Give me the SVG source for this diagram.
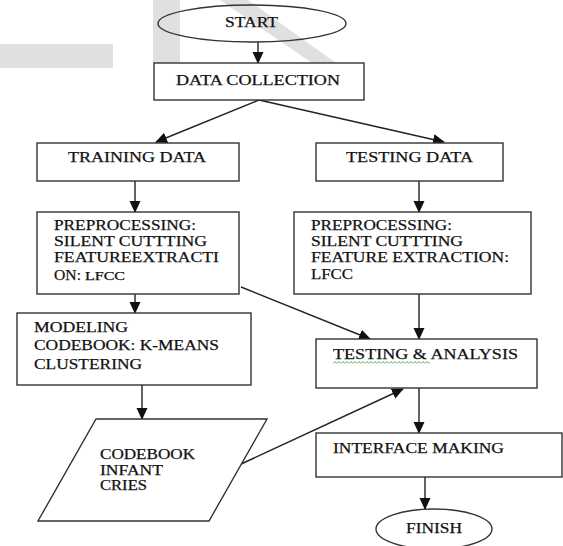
<svg xmlns="http://www.w3.org/2000/svg" width="563" height="546" viewBox="0 0 563 546">
  <style>
    .shape { fill: #ffffff; stroke: #333333; stroke-width: 1.4; }
    .oval { fill: none; stroke: #333333; stroke-width: 1.4; }
    .lbl { font-family: "Liberation Serif", "Times New Roman", serif; font-size: 15.5px; fill: #111111; stroke: #111111; stroke-width: 0.25; }
    .small { font-size: 12px; }
    .tight { font-size: 14px; }
    .conn { stroke: #222222; stroke-width: 1.4; fill: none; marker-end: url(#arrow); }
    .wm { fill: #e0e0e0; }
  </style>
  <defs>
    <marker id="arrow" markerWidth="12" markerHeight="12" refX="11" refY="6" orient="auto" markerUnits="userSpaceOnUse">
      <path d="M0,0.5 L12,6 L0,11.5 Z" fill="#111111"/>
    </marker>
    <pattern id="squig" width="4" height="3" patternUnits="userSpaceOnUse" x="333" y="361">
      <path d="M0,2.5 L2,0.5 L4,2.5" fill="none" stroke="#3aa83a" stroke-width="0.9"/>
    </pattern>
  </defs>

  <g id="watermark">
    <rect class="wm" x="0" y="44" width="113" height="24"/>
    <rect class="wm" x="153" y="0" width="27" height="63"/>
    <polygon class="wm" points="220,0 248,0 336,63 312,63"/>
  </g>

  <g id="connectors">
    <line class="conn" x1="258" y1="42" x2="258" y2="63"/>
    <line class="conn" x1="259" y1="100" x2="156" y2="142"/>
    <line class="conn" x1="259" y1="100" x2="444" y2="142"/>
    <line class="conn" x1="135" y1="181" x2="135" y2="212"/>
    <line class="conn" x1="419" y1="181" x2="419" y2="212"/>
    <line class="conn" x1="135" y1="294" x2="135" y2="313"/>
    <line class="conn" x1="419" y1="294" x2="419" y2="339"/>
    <line class="conn" x1="241" y1="287" x2="370" y2="339"/>
    <line class="conn" x1="142" y1="385" x2="142" y2="419"/>
    <line class="conn" x1="239" y1="465" x2="403" y2="389"/>
    <line class="conn" x1="419" y1="388" x2="419" y2="433"/>
    <line class="conn" x1="425" y1="477" x2="425" y2="509"/>
  </g>

  <g id="start">
    <ellipse class="oval" cx="252" cy="23.5" rx="94" ry="18.5"/>
    <text class="lbl" x="225" y="27" textLength="53" lengthAdjust="spacingAndGlyphs">START</text>
  </g>

  <g id="data-collection">
    <rect class="shape" x="154" y="63" width="210" height="37"/>
    <text class="lbl" x="176" y="85" textLength="164" lengthAdjust="spacingAndGlyphs">DATA COLLECTION</text>
  </g>

  <g id="training-data">
    <rect class="shape" x="37" y="143" width="202" height="38"/>
    <text class="lbl" x="68" y="162" textLength="138" lengthAdjust="spacingAndGlyphs">TRAINING DATA</text>
  </g>

  <g id="testing-data">
    <rect class="shape" x="316" y="143" width="187" height="38"/>
    <text class="lbl" x="346" y="162" textLength="127" lengthAdjust="spacingAndGlyphs">TESTING DATA</text>
  </g>

  <g id="preprocessing-training">
    <rect class="shape" x="37" y="212" width="202" height="82"/>
    <text class="lbl" x="54" y="230" textLength="142" lengthAdjust="spacingAndGlyphs">PREPROCESSING:</text>
    <text class="lbl" x="54" y="246" textLength="153" lengthAdjust="spacingAndGlyphs">SILENT CUTTTING</text>
    <text class="lbl" x="54" y="262" textLength="165" lengthAdjust="spacingAndGlyphs">FEATUREEXTRACTI</text>
    <text class="lbl" x="54" y="280"><tspan textLength="27" lengthAdjust="spacingAndGlyphs">ON:</tspan><tspan class="small" x="85" textLength="40" lengthAdjust="spacingAndGlyphs">LFCC</tspan></text>
  </g>

  <g id="preprocessing-testing">
    <rect class="shape" x="294" y="212" width="237" height="82"/>
    <text class="lbl" x="311" y="230" textLength="141" lengthAdjust="spacingAndGlyphs">PREPROCESSING:</text>
    <text class="lbl" x="311" y="246" textLength="152" lengthAdjust="spacingAndGlyphs">SILENT CUTTTING</text>
    <text class="lbl" x="311" y="262" textLength="198" lengthAdjust="spacingAndGlyphs">FEATURE EXTRACTION:</text>
    <text class="lbl" x="311" y="279" textLength="42" lengthAdjust="spacingAndGlyphs">LFCC</text>
  </g>

  <g id="modeling">
    <rect class="shape" x="17" y="313" width="234" height="72"/>
    <text class="lbl" x="34" y="332" textLength="94" lengthAdjust="spacingAndGlyphs">MODELING</text>
    <text class="lbl" x="34" y="350" textLength="185" lengthAdjust="spacingAndGlyphs">CODEBOOK: K-MEANS</text>
    <text class="lbl" x="34" y="369" textLength="108" lengthAdjust="spacingAndGlyphs">CLUSTERING</text>
  </g>

  <g id="testing-analysis">
    <rect class="shape" x="316" y="339" width="221" height="49"/>
    <text class="lbl" x="333" y="359" textLength="185" lengthAdjust="spacingAndGlyphs">TESTING &amp; ANALYSIS</text>
    <rect x="333" y="361" width="97" height="3" fill="url(#squig)"/>
  </g>

  <g id="codebook">
    <polygon class="shape" points="96,419 267,419 209,521 38,521"/>
    <text class="lbl tight" x="100" y="459" textLength="95" lengthAdjust="spacingAndGlyphs">CODEBOOK</text>
    <text class="lbl tight" x="100" y="474.5" textLength="63" lengthAdjust="spacingAndGlyphs">INFANT</text>
    <text class="lbl tight" x="100" y="490" textLength="47" lengthAdjust="spacingAndGlyphs">CRIES</text>
  </g>

  <g id="interface-making">
    <rect class="shape" x="316" y="433" width="246" height="44"/>
    <text class="lbl" x="333" y="453" textLength="171" lengthAdjust="spacingAndGlyphs">INTERFACE MAKING</text>
  </g>

  <g id="finish">
    <ellipse class="shape" cx="434" cy="529" rx="58" ry="20"/>
    <text class="lbl" x="406" y="533" textLength="56" lengthAdjust="spacingAndGlyphs">FINISH</text>
  </g>
</svg>
